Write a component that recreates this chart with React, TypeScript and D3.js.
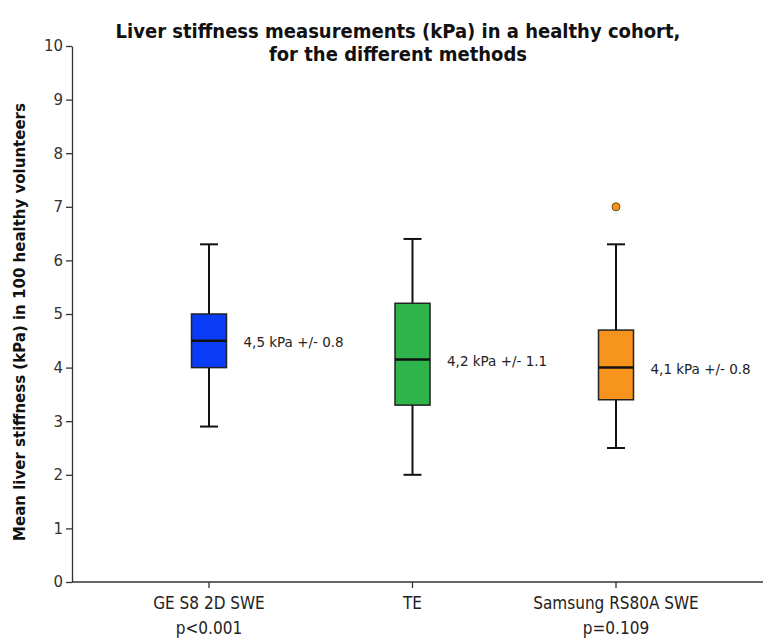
import React, { useEffect, useRef } from "react";
import * as d3 from "d3";

// methods on the x axis
const methods = ["GE S8 2D SWE", "TE", "Samsung RS80A SWE"];
const pValues = ["p<0.001", "", "p=0.109"];
// box plot statistics (kPa)
const whiskerLow = [2.9, 2.0, 2.5];
const q1 = [4.0, 3.3, 3.4];
const medians = [4.5, 4.15, 4.0];
const q3 = [5.0, 5.2, 4.7];
const whiskerHigh = [6.3, 6.4, 6.3];
const outliers = [[], [], [7.0]];
const meanLabels = ["4,5 kPa +/- 0.8", "4,2 kPa +/- 1.1", "4,1 kPa +/- 0.8"];
const colors = ["#0a3cf7", "#2fb34b", "#f7941e"];
const yTicks = [0, 1, 2, 3, 4, 5, 6, 7, 8, 9, 10];

function drawChart(container: HTMLDivElement) {
  const width = 763,
    height = 638;
  const left = 72,
    top = 46,
    bottom = 582;

  d3.select(container).selectAll("svg").remove();
  const svg = d3
    .select(container)
    .append("svg")
    .attr("width", width)
    .attr("height", height)
    .style("position", "absolute")
    .style("left", "0px")
    .style("top", "0px")
    .style("background", "#fff");

  const y = d3.scaleLinear().domain([0, 10]).range([bottom, top]);
  const x = d3.scalePoint<string>().domain(methods).range([209, 616]);

  const boxW = 35,
    capW = 18;

  // title
  const title = svg
    .append("text")
    .attr("text-anchor", "middle")
    .style("font-family", "'DejaVu Sans Condensed', sans-serif")
    .style("font-weight", "bold")
    .style("font-size", "20px")
    .style("fill", "#111");
  title.append("tspan").attr("x", 398).attr("y", 38)
    .text("Liver stiffness measurements (kPa) in a healthy cohort,");
  title.append("tspan").attr("x", 398).attr("y", 61).text("for the different methods");

  // y axis title
  svg
    .append("text")
    .attr("transform", "translate(25," + 322 + ") rotate(-90)")
    .attr("text-anchor", "middle")
    .style("font-family", "'DejaVu Sans', sans-serif")
    .style("font-weight", "bold")
    .style("font-size", "15px")
    .style("fill", "#111")
    .text("Mean liver stiffness (kPa) in 100 healthy volunteers");

  // y axis
  const yAxis = svg
    .append("g")
    .attr("transform", "translate(" + left + ",0)")
    .call(d3.axisLeft(y).tickValues(yTicks).tickSizeInner(6).tickSizeOuter(0).tickPadding(3));
  yAxis.select("path").style("stroke", "#333").style("stroke-width", "1.3px");
  yAxis.selectAll(".tick line").style("stroke", "#333").style("stroke-width", "1.3px");
  yAxis
    .selectAll(".tick text")
    .style("font-family", "'DejaVu Sans', sans-serif")
    .style("font-size", "15px")
    .style("fill", "#333");

  // x axis
  svg
    .append("line")
    .attr("x1", left)
    .attr("x2", width)
    .attr("y1", bottom)
    .attr("y2", bottom)
    .style("stroke", "#333")
    .style("stroke-width", "1.3px");

  const cats = svg.selectAll(".cat").data(methods).enter().append("g").attr("class", "cat");
  cats
    .append("line")
    .attr("x1", (d) => x(d)!)
    .attr("x2", (d) => x(d)!)
    .attr("y1", bottom)
    .attr("y2", bottom + 6)
    .style("stroke", "#333")
    .style("stroke-width", "1.3px");
  cats
    .append("text")
    .attr("x", (d) => x(d)!)
    .attr("y", 609)
    .attr("text-anchor", "middle")
    .style("font-family", "'DejaVu Sans Condensed', sans-serif")
    .style("font-size", "17px")
    .style("fill", "#222")
    .text((d) => d);
  cats
    .append("text")
    .attr("x", (d) => x(d)!)
    .attr("y", 634)
    .attr("text-anchor", "middle")
    .style("font-family", "'DejaVu Sans Condensed', sans-serif")
    .style("font-size", "17px")
    .style("fill", "#222")
    .text((d, i) => pValues[i]);

  // boxes
  const boxes = svg.selectAll(".box").data(methods).enter().append("g").attr("class", "box");

  boxes
    .append("line")
    .attr("x1", (d) => x(d)!)
    .attr("x2", (d) => x(d)!)
    .attr("y1", (d, i) => y(whiskerLow[i]))
    .attr("y2", (d, i) => y(whiskerHigh[i]))
    .style("stroke", "#111")
    .style("stroke-width", "2px");

  [whiskerLow, whiskerHigh].forEach((arr) => {
    boxes
      .append("line")
      .attr("x1", (d) => x(d)! - capW / 2)
      .attr("x2", (d) => x(d)! + capW / 2)
      .attr("y1", (d, i) => y(arr[i]))
      .attr("y2", (d, i) => y(arr[i]))
      .style("stroke", "#111")
      .style("stroke-width", "2px");
  });

  boxes
    .append("rect")
    .attr("x", (d) => x(d)! - boxW / 2)
    .attr("y", (d, i) => y(q3[i]))
    .attr("width", boxW)
    .attr("height", (d, i) => y(q1[i]) - y(q3[i]))
    .style("fill", (d, i) => colors[i])
    .style("stroke", "#222")
    .style("stroke-width", "1.5px");

  boxes
    .append("line")
    .attr("x1", (d) => x(d)! - boxW / 2)
    .attr("x2", (d) => x(d)! + boxW / 2)
    .attr("y1", (d, i) => y(medians[i]))
    .attr("y2", (d, i) => y(medians[i]))
    .style("stroke", "#111")
    .style("stroke-width", "2.5px");

  boxes
    .append("text")
    .attr("x", (d) => x(d)! + boxW / 2 + 17)
    .attr("y", (d, i) => y(medians[i]) + 1)
    .attr("dominant-baseline", "central")
    .style("font-family", "'DejaVu Sans', sans-serif")
    .style("font-size", "13.5px")
    .style("fill", "#222")
    .text((d, i) => meanLabels[i]);

  boxes.each(function (d, i) {
    d3.select(this)
      .selectAll("circle")
      .data(outliers[i])
      .enter()
      .append("circle")
      .attr("cx", x(d)!)
      .attr("cy", (v) => y(v))
      .attr("r", 4)
      .style("fill", colors[i])
      .style("stroke", "#6b4a10")
      .style("stroke-width", "1px");
  });
}

export default function App() {
  const ref = useRef<HTMLDivElement>(null);
  useEffect(() => {
    if (ref.current) drawChart(ref.current);
  }, []);
  return <div ref={ref} style={{ width: 763, height: 638 }} />;
}
